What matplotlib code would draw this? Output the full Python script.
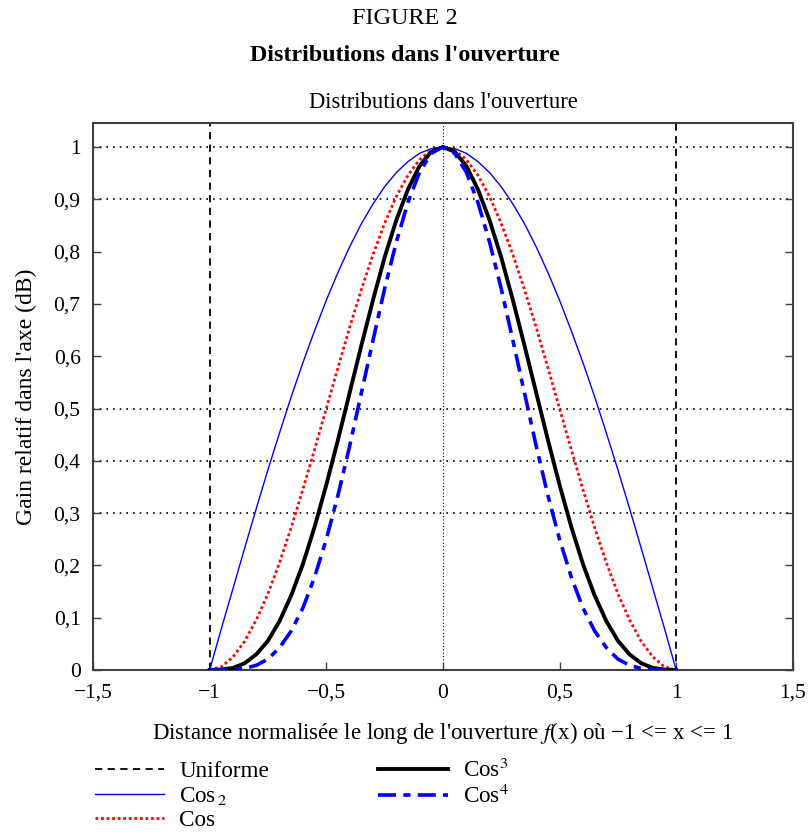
import matplotlib
matplotlib.use('Agg')
import matplotlib.pyplot as plt
import numpy as np

plt.rcParams['font.family'] = ['Liberation Serif', 'DejaVu Serif']
plt.rcParams['mathtext.fontset'] = 'stix'

# abscissa (normalised distance)
x = [-1.00, -0.95, -0.90, -0.85, -0.80, -0.75, -0.70, -0.65, -0.60, -0.55, -0.50,
     -0.45, -0.40, -0.35, -0.30, -0.25, -0.20, -0.15, -0.10, -0.05, 0.00,
     0.05, 0.10, 0.15, 0.20, 0.25, 0.30, 0.35, 0.40, 0.45, 0.50,
     0.55, 0.60, 0.65, 0.70, 0.75, 0.80, 0.85, 0.90, 0.95, 1.00]

cos1 = [0.000, 0.079, 0.156, 0.233, 0.309, 0.383, 0.454, 0.523, 0.588, 0.649, 0.707,
        0.760, 0.809, 0.853, 0.891, 0.924, 0.951, 0.972, 0.988, 0.997, 1.000,
        0.997, 0.988, 0.972, 0.951, 0.924, 0.891, 0.853, 0.809, 0.760, 0.707,
        0.649, 0.588, 0.523, 0.454, 0.383, 0.309, 0.233, 0.156, 0.079, 0.000]

cos2 = [0.000, 0.006, 0.025, 0.055, 0.096, 0.146, 0.206, 0.273, 0.346, 0.422, 0.500,
        0.578, 0.655, 0.727, 0.794, 0.854, 0.905, 0.946, 0.976, 0.994, 1.000,
        0.994, 0.976, 0.946, 0.905, 0.854, 0.794, 0.727, 0.655, 0.578, 0.500,
        0.422, 0.346, 0.273, 0.206, 0.146, 0.096, 0.055, 0.025, 0.006, 0.000]

cos3 = [0.000, 0.001, 0.004, 0.013, 0.030, 0.056, 0.094, 0.143, 0.203, 0.274, 0.354,
        0.440, 0.530, 0.620, 0.707, 0.789, 0.860, 0.919, 0.964, 0.991, 1.000,
        0.991, 0.964, 0.919, 0.860, 0.789, 0.707, 0.620, 0.530, 0.440, 0.354,
        0.274, 0.203, 0.143, 0.094, 0.056, 0.030, 0.013, 0.004, 0.001, 0.000]

cos4 = [0.000, 0.000, 0.001, 0.003, 0.009, 0.021, 0.043, 0.075, 0.119, 0.178, 0.250,
        0.334, 0.428, 0.529, 0.630, 0.729, 0.818, 0.894, 0.952, 0.988, 1.000,
        0.988, 0.952, 0.894, 0.818, 0.729, 0.630, 0.529, 0.428, 0.334, 0.250,
        0.178, 0.119, 0.075, 0.043, 0.021, 0.009, 0.003, 0.001, 0.000, 0.000]

# uniform aperture: edges at -1 and 1, goes past top of axes
unif_x = [-1, -1, 1, 1]
unif_y = [0, 1.2, 1.2, 0]

grid_y = [0.3, 0.4, 0.5, 0.9, 1.0]
grid_x = [0.0]

xticks = [-1.5, -1, -0.5, 0, 0.5, 1, 1.5]
xticklabels = ['\u22121,5', '\u22121', '\u22120,5', '0', '0,5', '1', '1,5']
yticks = [0, 0.1, 0.2, 0.3, 0.4, 0.5, 0.6, 0.7, 0.8, 0.9, 1]
yticklabels = ['0', '0,1', '0,2', '0,3', '0,4', '0,5', '0,6', '0,7', '0,8', '0,9', '1']

fig = plt.figure(figsize=(8.09, 8.34), dpi=100)
ax = fig.add_axes([0.115, 0.1966, 0.865, 0.656])

for gy in grid_y:
    ax.axhline(gy, color='black', lw=1.2, ls=(0, (1, 3)), zorder=1)
for gx in grid_x:
    ax.axvline(gx, color='black', lw=0.8, ls=(0, (1, 2)), zorder=1)

l_unif, = ax.plot(unif_x, unif_y, color='black', lw=1.3, ls=(0, (4, 3)), zorder=2)
l1, = ax.plot(x, cos1, color='#0000ff', lw=1.0, zorder=3)
l2, = ax.plot(x, cos2, color='#ff0000', lw=2.0, ls=(0, (1, 1)), zorder=3)
l3, = ax.plot(x, cos3, color='black', lw=2.8, zorder=4)
l4, = ax.plot(x, cos4, color='#0000ff', lw=2.6, ls=(0, (5, 2, 2, 2)), zorder=5)

ax.set_xlim(-1.5, 1.5)
ax.set_ylim(0, 1.046)
ax.set_xticks(xticks)
ax.set_xticklabels(xticklabels)
ax.set_yticks(yticks)
ax.set_yticklabels(yticklabels)
ax.tick_params(direction='in', length=6, width=1, color='#404040',
               labelsize=15.5, right=True, top=False)
ax.tick_params(axis='x', pad=10)
ax.tick_params(axis='y', pad=9)
for sp in ax.spines.values():
    sp.set_color('#404040')
    sp.set_linewidth(1.5)

ax.set_title("Distributions dans l'ouverture", fontsize=16.3, pad=11)
ax.set_xlabel("Distance normalisée le long de l'ouverture $\\mathit{f}$(x) où \u22121 <= x <= 1",
              fontsize=16.5, labelpad=12)
ax.set_ylabel("Gain relatif dans l'axe (dB)", fontsize=17, labelpad=12)

fig.text(0.5, 0.978, 'FIGURE 2', ha='center', va='center', fontsize=17.5)
fig.text(0.5, 0.933, "Distributions dans l'ouverture", ha='center', va='center',
         fontsize=17.3, fontweight='bold')

labels = ['Uniforme', 'Cos$_{\\,2}$', 'Cos', 'Cos$^{3}$', 'Cos$^{4}$']
fig.legend([l_unif, l1, l2, l3, l4], labels, loc='upper left',
           bbox_to_anchor=(0.117, 0.090), ncol=2, frameon=False, fontsize=16.7,
           handlelength=3.0, handletextpad=0.65, columnspacing=4.7,
           labelspacing=0.12, borderpad=0, borderaxespad=0)

fig.savefig('out.png', dpi=100)
